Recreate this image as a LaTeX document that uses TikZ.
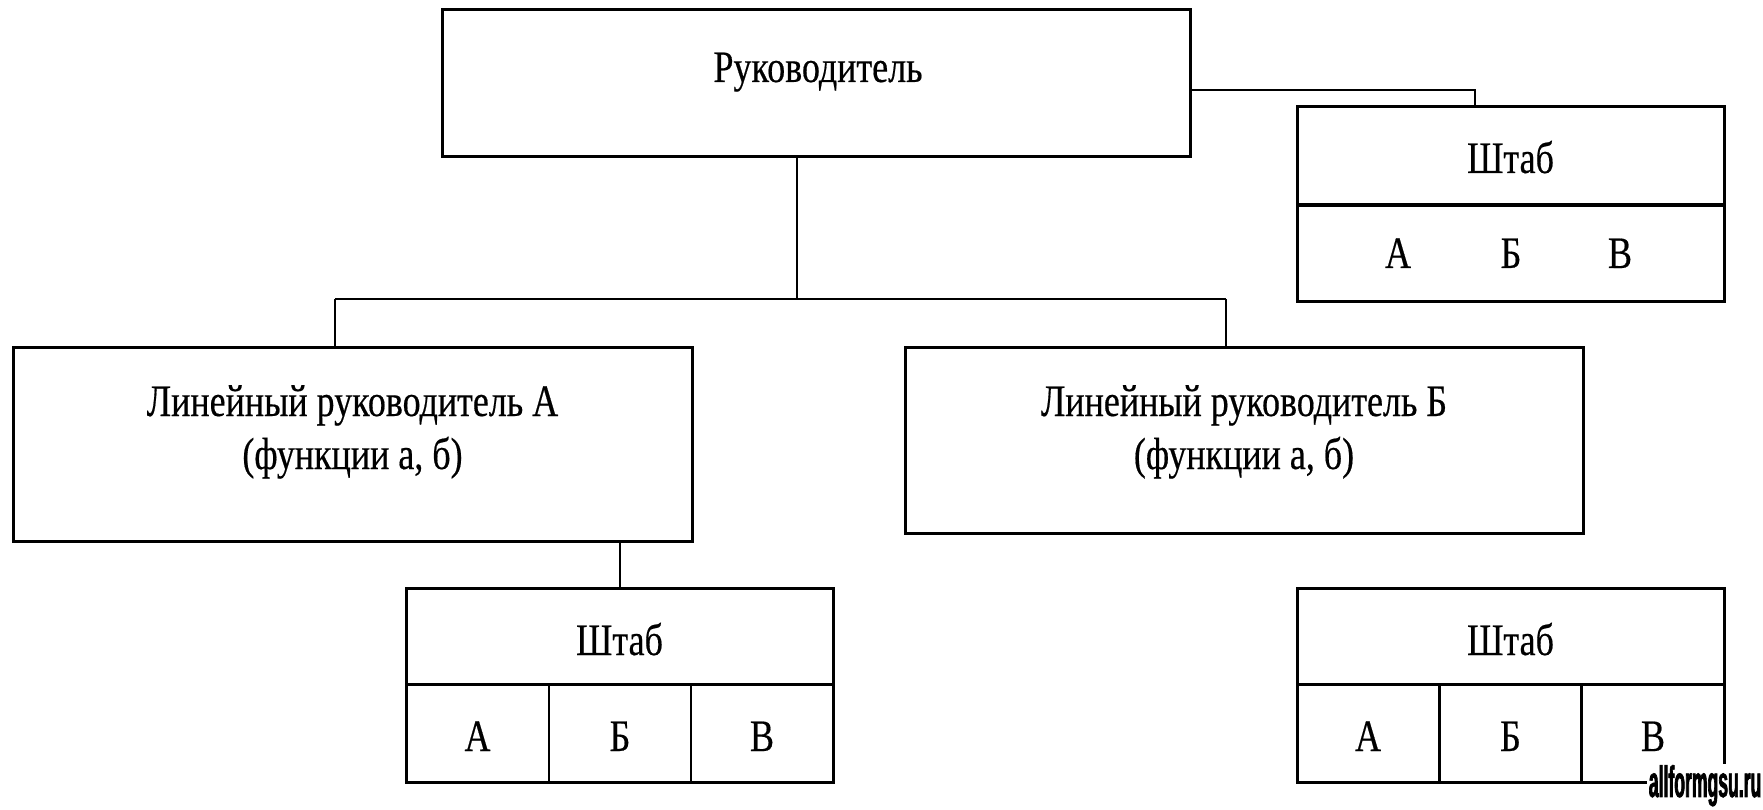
\documentclass[tikz,border=0pt]{standalone}
\usepackage{fontspec}
\setmainfont{Liberation Serif}
\newfontfamily\condfont[FakeStretch=0.8,FakeBold=0.4]{Liberation Serif}
\newfontfamily\wmfont[FakeStretch=0.4,FakeBold=1.5]{Liberation Sans}
\begin{document}
\begin{tikzpicture}[x=1pt,y=-1pt,
  box/.style={draw, line width=3pt, rectangle, inner sep=0pt},
  cell/.style={draw, line width=2.8pt, rectangle, inner sep=0pt},
  txt/.style={inner sep=0pt, anchor=base, font=\condfont\fontsize{45}{54}\selectfont},
  conn/.style={draw, line width=2.8pt}]
\useasboundingbox (0,0) rectangle (1763,810);
\fill[white] (0,0) rectangle (1763,810);

% top manager
\node[box, minimum width=748pt, minimum height=147pt] (top) at (816,83) {};
\node[txt] (toptxt) at (818,82) {Руководитель};

% top-right staff
\node[box, minimum width=427pt, minimum height=99pt] (s0h) at (1510.5,156) {};
\node[box, minimum width=427pt, minimum height=96pt] (s0b) at (1510.5,253) {};
\node[txt] (s0t) at (1510.5,173) {Штаб};
\node[txt] (s0a) at (1398,268) {А};
\node[txt] (s0bb) at (1511,268) {Б};
\node[txt] (s0c) at (1620,268) {В};

% line managers
\node[box, minimum width=679pt, minimum height=194pt] (la) at (352.5,444) {};
\node[txt] (la1) at (352.5,416) {Линейный руководитель А};
\node[txt] (la2) at (352.5,469) {(функции а, б)};
\node[box, minimum width=678pt, minimum height=186pt] (lb) at (1244,440) {};
\node[txt] (lb1) at (1244,416) {Линейный руководитель Б};
\node[txt] (lb2) at (1244,469) {(функции а, б)};

% staff A
\node[box, minimum width=427pt, minimum height=96pt] (sah) at (619.5,636) {};
\node[txt] (sat) at (619.5,655) {Штаб};
\node[cell, minimum width=143pt, minimum height=98pt] (sa1) at (477.5,733) {};
\node[cell, minimum width=142pt, minimum height=98pt] (sa2) at (620,733) {};
\node[cell, minimum width=142pt, minimum height=98pt] (sa3) at (762,733) {};
\node[txt] (saa) at (477.5,751) {А};
\node[txt] (sab) at (620,751) {Б};
\node[txt] (sac) at (762,751) {В};
\draw[box] (406,588) rectangle (833,782);

% staff B
\node[box, minimum width=427pt, minimum height=96pt] (sbh) at (1510.5,636) {};
\node[txt] (sbt) at (1510.5,655) {Штаб};
\node[cell, minimum width=142pt, minimum height=98pt] (sb1) at (1368,733) {};
\node[cell, minimum width=142pt, minimum height=98pt] (sb2) at (1510.5,733) {};
\node[cell, minimum width=142pt, minimum height=98pt] (sb3) at (1653,733) {};
\node[txt] (sba) at (1368,751) {А};
\node[txt] (sbb) at (1510.5,751) {Б};
\node[txt] (sbc) at (1653,751) {В};
\draw[box] (1297,588) rectangle (1724,782);

% connectors
\coordinate (bus) at (797,299);
\coordinate (busL) at (335,299);
\coordinate (busR) at (1226,299);
\coordinate (jR) at (1475,90);
\coordinate (jA) at (620,0);
\draw[conn] (top.south -| bus) -- (bus);
\draw[conn] (busL) -- (busR);
\draw[conn] (busL) -- (la.north -| busL);
\draw[conn] (busR) -- (lb.north -| busR);
\draw[conn] (top.east |- jR) -- (jR) -- (s0h.north -| jR);
\draw[conn] (la.south -| jA) -- (sah.north -| jA);

% watermark
\node[inner sep=1.5pt, anchor=south east, fill=white, font=\wmfont\bfseries\fontsize{44}{44}\selectfont,
  text=black] (wm) at (1763,808) {allformgsu.ru};
\end{tikzpicture}
\end{document}
